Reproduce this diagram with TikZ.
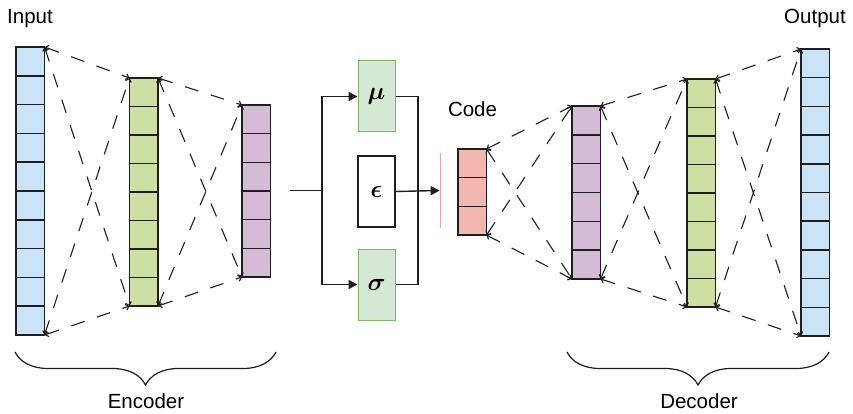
\documentclass[tikz,border=0pt]{standalone}
\usepackage{bm}
\usepackage{fontspec}
\setmainfont{Liberation Sans}
\usetikzlibrary{arrows.meta,decorations.pathreplacing,calc}
\definecolor{cblue}{HTML}{CAE4F7}
\definecolor{cgreen}{HTML}{CDDFA2}
\definecolor{cpurple}{HTML}{D5BCD6}
\definecolor{csalmon}{HTML}{F4B7B0}
\definecolor{gfill}{HTML}{D5E8D4}
\definecolor{gline}{HTML}{82B366}
\definecolor{redbar}{HTML}{E8A4A4}
\definecolor{ink}{HTML}{1E1E1E}
\tikzset{
  cellcol/.style={draw=ink, line width=1.6pt, inner sep=0pt, outer sep=0pt, minimum width=28.5pt, anchor=north west},
  cellsep/.style={draw=ink, line width=1.6pt},
  dcon/.style={draw=ink, line width=1.1pt, dash pattern=on 14pt off 13pt, {Straight Barb[length=3pt,width=6pt]}-{Straight Barb[length=3pt,width=6pt]}},
  mbox/.style={draw=gline, fill=gfill, line width=1pt, minimum width=37pt, minimum height=71pt, inner sep=0pt},
  ebox/.style={draw=ink, fill=white, line width=1.5pt, minimum width=37pt, minimum height=71pt, inner sep=0pt},
  flow/.style={draw=ink, line width=1.4pt},
  farr/.style={flow, -{Triangle[length=9pt,width=9pt]}},
  lbl/.style={font=\fontsize{20.5}{24}\selectfont, anchor=base, inner sep=0pt}
}
\newcommand\layercol[6]{%
  \node[cellcol, fill=#6, minimum height={#4*#5}] (#1) at (#2,#3) {};
  \pgfmathtruncatemacro\nsep{#4-1}%
  \foreach \k in {1,...,\nsep} {\draw[cellsep] ($(#1.north west)+(0,\k*#5)$) -- ++(28.5,0);}
}
\newcommand\grk[1]{\fontsize{25}{28}\selectfont$\bm{#1}$}
\begin{document}
\begin{tikzpicture}[x=1pt,y=-1pt]
\useasboundingbox (0,0) rectangle (853,414);
% layers
\layercol{in}{16}{47}{10}{28.8}{cblue}
\layercol{eg}{129.5}{78}{8}{28.5}{cgreen}
\layercol{ep}{242}{105}{6}{28.67}{cpurple}
\layercol{code}{458}{149}{3}{28.7}{csalmon}
\layercol{dp}{572}{106}{6}{28.83}{cpurple}
\layercol{dg}{687}{79}{8}{28.5}{cgreen}
\layercol{out}{801}{49}{10}{28.7}{cblue}
% dashed connections
\foreach \a/\b in {in/eg, eg/ep, code/dp, dp/dg, dg/out} {
  \draw[dcon] (\a.north east) -- (\b.north west);
  \draw[dcon] (\a.north east) -- (\b.south west);
  \draw[dcon] (\a.south east) -- (\b.north west);
  \draw[dcon] (\a.south east) -- (\b.south west);
}
% middle part
\node[mbox] (mu) at (376.5,96.5) {\grk{\mu}};
\node[ebox] (eps) at (376.5,191.5) {\grk{\epsilon}};
\node[mbox] (sig) at (376.5,284.5) {\grk{\sigma}};
\node[fill=redbar, inner sep=0pt, minimum width=1.3pt, minimum height=75pt] (bar) at (440.5,190.5) {};
\coordinate (s) at (290,190.5);
\coordinate (j) at (322,190.5);
\coordinate (k) at (418,190.5);
\draw[flow] (s) -- (j);
\draw[farr] (j) |- (mu.west);
\draw[farr] (j) |- (sig.west);
\draw[flow] (mu.east) -| (k);
\draw[flow] (sig.east) -| (k);
\draw[farr] (eps.east) -- (bar.west);
% braces
\draw[draw=ink, line width=1.2pt, decorate, decoration={brace, amplitude=33pt}] (276,352) -- (15,352);
\draw[draw=ink, line width=1.2pt, decorate, decoration={brace, amplitude=33pt}] (829,352) -- (567,352);
% labels
\node[lbl] (tin) at (30,24) {Input};
\node[lbl] (tout) at (815,24) {Output};
\node[lbl] (tcode) at (472.5,116.5) {Code};
\node[lbl] (tenc) at (146,408) {Encoder};
\node[lbl] (tdec) at (699,408) {Decoder};
\end{tikzpicture}
\end{document}
